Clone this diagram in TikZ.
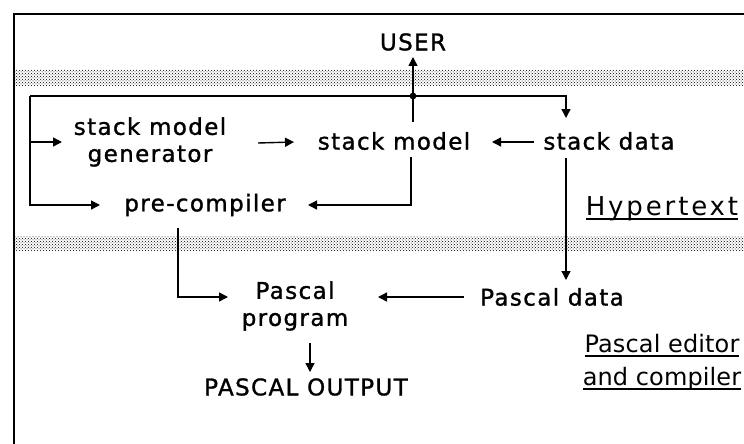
\documentclass[tikz,border=0pt]{standalone}
\usepackage{fontspec}
\setmainfont{DejaVu Sans}[LetterSpace=6, FakeBold=1.2]
\newfontfamily\sidefont{DejaVu Sans}[LetterSpace=0.5]
\newfontfamily\hyperfont{DejaVu Sans}[LetterSpace=11]
\usetikzlibrary{arrows.meta,patterns,calc}
% thick underline set close below the baseline
\newcommand\ulin[1]{\setbox0\hbox{#1}\rlap{\rule[-4.5pt]{\wd0}{2pt}}\box0}

\begin{document}
\begin{tikzpicture}[x=1pt,y=-1pt,
  every node/.style={font=\fontsize{23}{27}\selectfont, inner sep=0pt, outer sep=0pt},
  side/.style={font=\sidefont\fontsize{24}{33}\selectfont, align=center},
  conn/.style={line width=1.4pt, -{Triangle[length=9pt,width=9pt]}},
  wire/.style={line width=1.4pt},
  band/.style={pattern=crosshatch dots, pattern color=black}]
\useasboundingbox (0,0) rectangle (744,444);
\fill[white] (0,0) rectangle (744,444);

% frame and shaded separator bands
\draw[line width=1.3pt] (744,14) -- (14,14) -- (14,444);
\fill[band] (15,70) rectangle (744,85);
\fill[band] (15,236) rectangle (744,250);

% labels
\node (user)  at (413,42)  {USER};
\node[align=center] (gen) at (150,142) {stack model\\generator};
\node (model) at (394,141) {stack model};
\node (sdata) at (609,141) {stack data};
\node (pre)   at (205,205) {pre-compiler};
\node[align=center] (prog) at (295,306) {Pascal\\program};
\node (pdata) at (552,297) {Pascal data};
\node (out)   at (306,387) {PASCAL OUTPUT};
\node[font=\hyperfont\fontsize{26}{30}\selectfont] (hyper) at (662,209) {\ulin{Hypertext}};
\node[side] (pedit) at (662,362) {\ulin{Pascal editor}\\\ulin{and compiler}};

% branch point and loop corner
\coordinate (j)  at (413,96);
\coordinate (lc) at (30,96);
\fill (j) circle (3.4pt);

% connectors
\draw[conn] (j) -- ($(user)+(0,15)$);
\draw[wire] ($(model)+(19,-19)$) -- (j);
\draw[conn] (j) -| ($(sdata)+(-43,-23)$);
\draw[wire] (j) -- (lc);
\draw[conn] (lc) |- ($(pre)+(-105,0)$);
\draw[conn] (lc |- gen) -- ($(gen)+(-88,0)$);
\draw[conn] ($(gen)+(108,1)$) -- ($(model)+(-100,1)$);
\draw[conn] ($(sdata)+(-75,1)$) -- ($(model)+(98,1)$);
\draw[conn] ($(model)+(17,16)$) |- ($(pre)+(103,0)$);
\draw[conn] ($(sdata)+(-43,17)$) -- ($(pdata)+(14,-17)$);
\draw[conn] ($(pre)+(-27,23)$) |- ($(prog)+(-67,-9)$);
\draw[conn] ($(pdata)+(-88,0)$) -- ($(prog)+(83,-9)$);
\draw[conn] ($(prog)+(15,37)$) -- ($(out)+(4,-15)$);
\end{tikzpicture}
\end{document}
